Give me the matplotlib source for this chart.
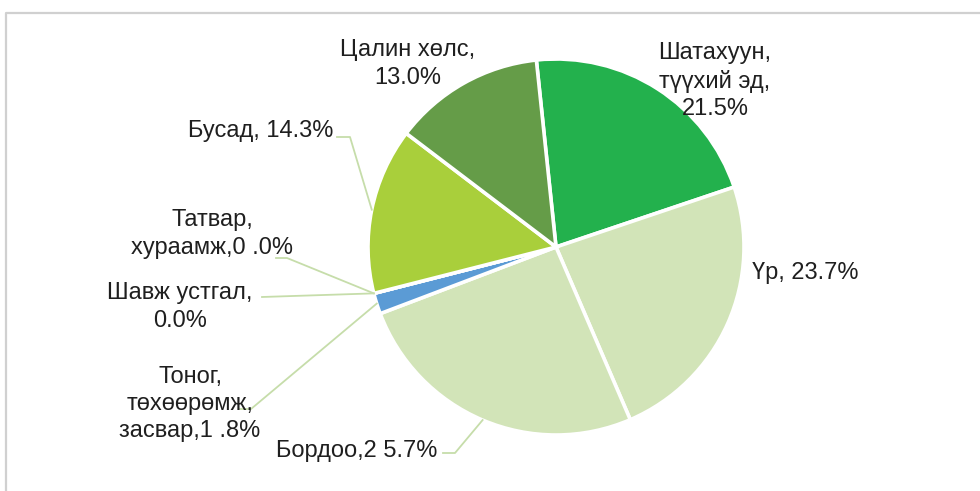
import numpy as np
import matplotlib.pyplot as plt
from matplotlib.lines import Line2D

plt.rcParams['font.family'] = ['Liberation Sans', 'DejaVu Sans']

labels = ['Шатахуун,\nтүүхий эд,\n21.5%', 'Үр, 23.7%', 'Бордоо,2 5.7%',
          'Тоног,\nтөхөөрөмж,\nзасвар,1 .8%', 'Шавж устгал,\n0.0%',
          'Татвар,\nхураамж,0 .0%', 'Бусад, 14.3%', 'Цалин хөлс,\n13.0%']
values = [21.5, 23.7, 25.7, 1.8, 0.0, 0.0, 14.3, 13.0]
colors = ['#23B14D', '#D2E4B8', '#D2E4B8', '#5B9BD5', '#5B9BD5', '#5B9BD5',
          '#A9CF3B', '#659C48']

W, H = 980, 491
cx, cy, r = 556, H - 247, 188
start = 96

# label placement in image pixels: (x, y, ha, elbow points or None)
layout = [
    (715, 81, 'center', None),
    (752, 273, 'left', None),
    (437, 451, 'right', [(455, 453), (443, 453)]),
    (190, 404, 'center', [(251, 409), (239, 409)]),
    (180, 307, 'center', [(262, 297)]),
    (212, 234, 'center', [(287, 258), (276, 258)]),
    (333, 131, 'right', [(350, 137), (337, 137)]),
    (408, 64, 'center', None),
]

fig = plt.figure(figsize=(W / 100, H / 100), dpi=100)
ax = fig.add_axes([0, 0, 1, 1])

ax.pie(values, colors=colors, startangle=start, counterclock=False,
       center=(cx, cy), radius=r, frame=True,
       wedgeprops=dict(edgecolor='white', linewidth=2.6))
ax.set_xlim(0, W)
ax.set_ylim(0, H)
ax.set_aspect('equal')
ax.axis('off')

total = sum(values)
cum = 0
for lab, v, (tx, ty, ha, elbow) in zip(labels, values, layout):
    mid = start - (cum + v / 2) / total * 360
    cum += v
    if elbow:
        ang = np.radians(mid)
        xs = [cx + r * np.cos(ang)] + [p[0] for p in elbow]
        ys = [cy + r * np.sin(ang)] + [H - p[1] for p in elbow]
        ax.plot(xs, ys, color='#C6DDAA', lw=1.3, zorder=1)
    ax.text(tx, H - ty, lab, ha=ha, va='center', fontsize=17,
            color='#1F1F1F', linespacing=1.3, zorder=3)

# outer frame (only top and left edges visible)
fig.add_artist(Line2D([5.5 / W, 5.5 / W, 1], [0, 1 - 12.5 / H, 1 - 12.5 / H],
                      transform=fig.transFigure, color='#D0D0D0', lw=1.6))

fig.savefig('out.png', dpi=100)
